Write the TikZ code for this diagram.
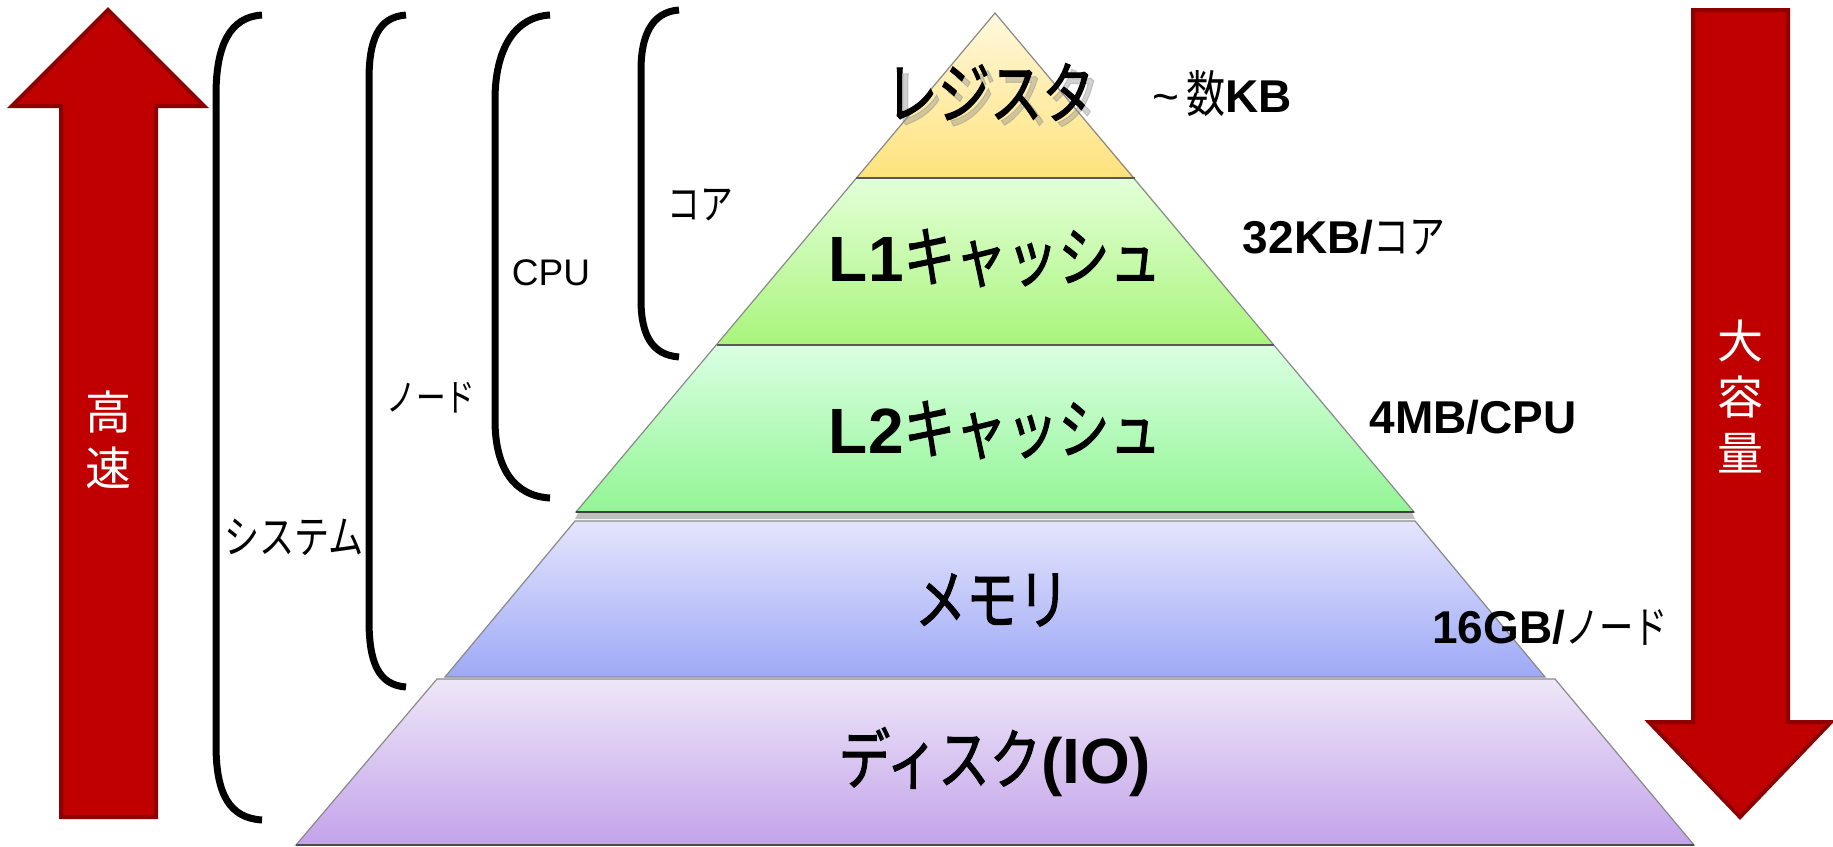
\documentclass[tikz,border=0pt]{standalone}
\usepackage{fontspec}
\setmainfont{Liberation Sans}
\newfontfamily\jp[FakeStretch=0.78]{Noto Sans CJK JP}
\newfontfamily\jpb[FakeStretch=0.78,FakeBold=1.5]{Noto Sans CJK JP}
\newfontfamily\jpw{Noto Sans CJK JP}
\newcommand\myfs[1]{\fontsize{#1}{#1}\selectfont}
\definecolor{arrowred}{HTML}{C00000}
\definecolor{arrowdark}{HTML}{8E0000}
\definecolor{edgegray}{HTML}{8A8A8A}
\definecolor{regtop}{HTML}{FFF8DC}
\definecolor{regbot}{HTML}{FFE27C}
\definecolor{lonetop}{HTML}{E3FFD8}
\definecolor{lonebot}{HTML}{A9F57C}
\definecolor{ltwotop}{HTML}{DAFFE2}
\definecolor{ltwobot}{HTML}{92F594}
\definecolor{memtop}{HTML}{E4E5FC}
\definecolor{membot}{HTML}{9EA9F7}
\definecolor{disktop}{HTML}{EEE6F8}
\definecolor{diskbot}{HTML}{C3A3EA}
\begin{document}
\begin{tikzpicture}[x=1pt,y=-1pt,
  bigarrow/.style={fill=arrowred, draw=arrowdark, line width=4pt, line join=miter},
  brace/.style={line width=7pt, line cap=butt},
  layer/.style={draw=edgegray, line width=1.2pt},
  divider/.style={draw=black!65, line width=1.4pt},
  lbl/.style={inner sep=0pt, anchor=center},
  big/.style={lbl, font=\myfs{64}},
  size/.style={lbl, font=\myfs{46}\bfseries},
  small/.style={lbl, font=\myfs{37}},
  vtext/.style={lbl, text=white, align=center, font=\jpw\fontsize{46}{56}\selectfont}]
\useasboundingbox (0,0) rectangle (1833,846);
\fill[white] (0,0) rectangle (1833,846);

% big arrows
\draw[bigarrow] (108,10) -- (204,106) -- (156,106) -- (156,817) -- (61,817) -- (61,106) -- (12,106) -- cycle;
\draw[bigarrow] (1693,10) -- (1788,10) -- (1788,722) -- (1831,722) -- (1740,817) -- (1649,722) -- (1693,722) -- cycle;
\node[vtext] (fast) at (108,440) {高\\速};
\node[vtext] (large) at (1740,396) {大\\容\\量};

% brackets
\draw[brace] (262,15) .. controls (230,17) and (216,45) .. (216,95) -- (216,745) .. controls (216,795) and (230,818) .. (262,820);
\draw[brace] (406,15) .. controls (378,17) and (369,40) .. (369,80) -- (369,620) .. controls (369,662) and (378,685) .. (406,687);
\draw[brace] (550,15) .. controls (514,17) and (495,50) .. (495,100) -- (495,420) .. controls (495,468) and (514,496) .. (550,498);
\draw[brace] (679,10) .. controls (652,12) and (641,35) .. (641,70) -- (641,300) .. controls (641,335) and (652,355) .. (679,357);

\node[lbl, font=\jp\myfs{42}] (core) at (700,205) {コア};
\node[small] (cpu) at (551,273) {CPU};
\node[lbl, font=\jp\myfs{38}] (nodelbl) at (431,398) {ノード};
\node[lbl, font=\jp\myfs{45}] (system) at (294,537) {システム};

% pyramid
\shade[top color=disktop, bottom color=diskbot] (437,679) -- (1555,679) -- (1694,845) -- (296,845) -- cycle;
\draw[layer] (437,679) -- (1555,679) -- (1694,845) -- (296,845) -- cycle;
\draw[draw=black!70, line width=1.6pt] (296,845) -- (1694,845);
\shade[top color=memtop, bottom color=membot] (575,521) -- (1415,521) -- (1545,677) -- (445,677) -- cycle;
\draw[layer] (575,521) -- (1415,521) -- (1545,677) -- (445,677) -- cycle;
\fill[black!25] (578,513) -- (1412,513) -- (1415,519) -- (575,519) -- cycle;
\shade[top color=ltwotop, bottom color=ltwobot] (717,345) -- (1274,345) -- (1414,512) -- (576,512) -- cycle;
\shade[top color=lonetop, bottom color=lonebot] (856,178) -- (1135,178) -- (1274,345) -- (717,345) -- cycle;
\shade[top color=regtop, bottom color=regbot] (995,13) -- (1135,178) -- (856,178) -- cycle;
\draw[layer] (995,13) -- (1414,512) -- (576,512) -- cycle;
\draw[divider] (856,178) -- (1135,178);
\draw[divider] (717,345) -- (1274,345);
\draw[draw=black!75, line width=1.6pt] (576,512) -- (1414,512);

% layer labels
\node[big, font=\jpb\myfs{67}, text=black!45, opacity=0.4] (regshadow) at (996,98) {レジスタ};
\node[big, font=\jpb\myfs{67}] (reg) at (990,92) {レジスタ};
\node[lbl, font=\myfs{46}] (regsize) at (1222,94) {\textasciitilde\,{\jp\myfs{50}数}\textbf{KB}};
\node[big] (l1) at (995,258) {\textbf{L1}{\jpb\myfs{66}キャッシュ}};
\node[size] (l1size) at (1344,238) {32KB/{\jp\mdseries\myfs{46}コア}};
\node[big] (l2) at (995,430) {\textbf{L2}{\jpb\myfs{66}キャッシュ}};
\node[size] (l2size) at (1473,417) {4MB/CPU};
\node[big, font=\jpb\myfs{66}] (mem) at (992,600) {メモリ};
\node[size] (memsize) at (1550,627) {16GB/{\jp\mdseries\myfs{44}ノード}};
\node[big] (disk) at (995,762) {{\jpb\myfs{66}ディスク}\textbf{(IO)}};
\end{tikzpicture}
\end{document}
